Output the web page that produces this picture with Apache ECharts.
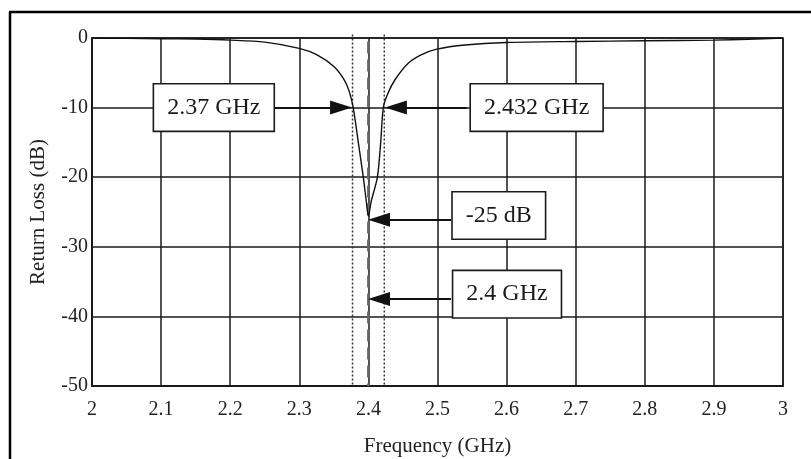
<!DOCTYPE html>
<html>
<head>
<meta charset="utf-8">
<script src="https://cdn.jsdelivr.net/npm/echarts@6/dist/echarts.min.js"></script>
<style>html,body{margin:0;padding:0;background:#fff}#c{width:811px;height:459px}</style>
</head>
<body>
<div id="c"></div>
<script>
// Return loss curve (GHz, dB)
const freq = [2.00, 2.05, 2.10, 2.15, 2.20, 2.25, 2.30, 2.325, 2.35, 2.365, 2.372, 2.378, 2.3854, 2.3926, 2.397, 2.400, 2.404, 2.413, 2.4178, 2.4216, 2.428, 2.4385, 2.458, 2.477, 2.499, 2.54, 2.60, 2.70, 2.80, 2.90, 2.95, 3.00];
const returnLoss = [0, -0.05, -0.1, -0.15, -0.3, -0.6, -1.5, -2.4, -4.1, -6.0, -7.6, -10.0, -15, -20, -23.5, -25.6, -23.5, -20, -15, -10, -8, -6.0, -3.6, -2.4, -1.6, -1.0, -0.65, -0.5, -0.4, -0.3, -0.2, 0];

// Marker lines
const lowerEdge = 2.377;   // dotted
const upperEdge = 2.423;   // dotted
const centerFreq = 2.4;    // dashed

// Annotation boxes: [label, box centre x, box centre y]
const boxLabels = ['2.37 GHz', '2.432 GHz', '-25 dB', '2.4 GHz'];
const boxX = [2.1763, 2.6435, 2.5887, 2.6006];
const boxY = [-10, -10, -25.5, -36.8];
// Arrows: from (start x, y) to arrowhead centre (end x, y)
const arrowFromX = [2.2627, 2.5422, 2.5195, 2.5195];
const arrowEndX = [2.3604, 2.4398, 2.4153, 2.4153];
const arrowY = [-10, -10, -26.1, -37.5];

const xTicks = {min: 2, max: 3, interval: 0.1};
const yTicks = {min: -50, max: 0, interval: 10};

const serif = '"Liberation Serif", "DejaVu Serif", serif';
const chart = echarts.init(document.getElementById('c'), null, {renderer: 'canvas'});

const curve = freq.map((f, i) => [f, returnLoss[i]]);
const boxes = boxLabels.map((t, i) => ({name: t, value: [boxX[i], boxY[i]]}));
const arrows = arrowY.map((y, i) => ({coords: [[arrowFromX[i], y], [arrowEndX[i], y]]}));

chart.setOption({
  animation: false,
  backgroundColor: '#fff',
  grid: {left: 92, right: 28, top: 38, bottom: 73, show: true, borderColor: '#1a1a1a', borderWidth: 1.5,
         containLabel: false, outerBoundsMode: 'none'},
  xAxis: {
    type: 'value', min: xTicks.min, max: xTicks.max, interval: xTicks.interval,
    name: 'Frequency (GHz)', nameLocation: 'middle', nameGap: 50,
    nameTextStyle: {fontFamily: serif, fontSize: 21, color: '#222'},
    axisLine: {show: true, onZero: false, lineStyle: {color: '#1a1a1a', width: 2}},
    axisTick: {show: false},
    axisLabel: {fontFamily: serif, fontSize: 20, color: '#222', margin: 14},
    splitLine: {show: true, lineStyle: {color: '#1a1a1a', width: 1.5}}
  },
  yAxis: {
    type: 'value', min: yTicks.min, max: yTicks.max, interval: yTicks.interval,
    name: 'Return Loss (dB)', nameLocation: 'middle', nameGap: 43,
    nameTextStyle: {fontFamily: serif, fontSize: 21, color: '#222'},
    axisLine: {show: true, lineStyle: {color: '#1a1a1a', width: 2}},
    axisTick: {show: false},
    axisLabel: {fontFamily: serif, fontSize: 20, color: '#222', margin: 4},
    splitLine: {show: true, lineStyle: {color: '#1a1a1a', width: 1.5}}
  },
  graphic: [
    {type: 'line', shape: {x1: 10, y1: 12, x2: 10, y2: 459}, style: {stroke: '#000', lineWidth: 2.5}},
    {type: 'line', shape: {x1: 9, y1: 12, x2: 811, y2: 12}, style: {stroke: '#000', lineWidth: 2.5}}
  ],
  series: [
    {type: 'line', data: [[lowerEdge, 0.5], [lowerEdge, -50]], showSymbol: false, clip: false, z: 3,
     lineStyle: {color: '#333', width: 1.5, type: [2, 2]}},
    {type: 'line', data: [[upperEdge, 0.5], [upperEdge, -50]], showSymbol: false, clip: false, z: 3,
     lineStyle: {color: '#333', width: 1.5, type: [2, 2]}},
    {type: 'line', data: [[centerFreq, -0.5], [centerFreq, -50]], showSymbol: false, clip: false, z: 3,
     lineStyle: {color: '#666', width: 2.6, type: [12, 6]}},
    {type: 'line', data: curve, showSymbol: false, smooth: 0.3, z: 4,
     lineStyle: {color: '#111', width: 1.4}},
    {type: 'lines', coordinateSystem: 'cartesian2d', data: arrows, z: 5,
     symbol: ['none', 'triangle'], symbolSize: [1, [14, 22]],
     lineStyle: {color: '#111', width: 2, opacity: 1}},
    {type: 'scatter', data: boxes, symbolSize: 0, z: 10, itemStyle: {opacity: 1},
     label: {show: true, position: 'inside', formatter: '{b}', fontFamily: serif, fontSize: 24, color: '#1a1a1a',
       backgroundColor: '#fff', borderColor: '#1a1a1a', borderWidth: 1.6, padding: [11, 13]}}
  ]
});
</script>
</body>
</html>
